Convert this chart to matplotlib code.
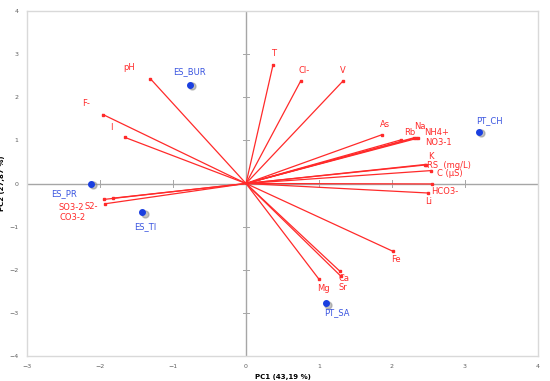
import matplotlib.pyplot as plt

# variable loadings (PC1, PC2)
var_names = ["pH", "F-", "I", "T", "Cl-", "V", "As", "Rb", "Na", "NH4+", "NO3-1",
             "K", "RS  (mg/L)", "C (µS)", "HCO3-", "Li", "Fe", "Ca", "Sr", "Mg",
             "SO3-2", "S2-", "CO3-2"]
var_pc1 = [-1.31, -1.96, -1.66, 0.37, 0.75, 1.33, 1.86, 2.12, 2.30, 2.33, 2.35,
           2.45, 2.46, 2.54, 2.55, 2.49, 2.01, 1.29, 1.30, 1.00,
           -1.95, -1.82, -1.93]
var_pc2 = [2.43, 1.60, 1.07, 2.75, 2.38, 2.38, 1.13, 1.01, 1.06, 1.06, 1.05,
           0.44, 0.43, 0.30, -0.01, -0.22, -1.57, -2.04, -2.15, -2.22,
           -0.37, -0.34, -0.47]

# observations
obs_names = ["ES_BUR", "PT_CH", "ES_PR", "ES_TI", "PT_SA"]
obs_pc1 = [-0.77, 3.19, -2.12, -1.42, 1.10]
obs_pc2 = [2.29, 1.20, 0.00, -0.67, -2.78]

# label offsets in pixels (dx, dy) and horizontal alignment
var_offsets = {
    "pH": (-21, 11, "center"), "F-": (-17, 11, "center"), "I": (-13, 10, "center"),
    "T": (1, 11, "center"), "Cl-": (3, 10, "center"), "V": (0, 10, "center"),
    "As": (3, 10, "center"), "Rb": (9, 7, "center"), "Na": (6, 11, "center"),
    "NH4+": (8, 5, "left"), "NO3-1": (8, -4, "left"), "K": (6, 8, "center"),
    "RS  (mg/L)": (1, -1, "left"), "C (µS)": (6, -3, "left"),
    "HCO3-": (-1, -8, "left"), "Li": (1, -9, "center"), "Fe": (3, -8, "center"),
    "Ca": (4, -7, "center"), "Sr": (2, -11, "center"), "Mg": (4, -9, "center"),
    "SO3-2": (-32, -8, "center"), "S2-": (-22, -8, "center"), "CO3-2": (-33, -14, "center"),
}
obs_offsets = {
    "ES_BUR": (0, 13), "PT_CH": (11, 11), "ES_PR": (-27, -10),
    "ES_TI": (3, -14), "PT_SA": (11, -9),
}

red = "#ff2a2a"
blue = "#3a55e0"

fig = plt.figure(figsize=(5.5, 3.81), dpi=100)
ax = fig.add_axes([27 / 550, 1 - 356 / 381, (538 - 27) / 550, (356 - 11) / 381])

ax.set_xlim(-3, 4)
ax.set_ylim(-4, 4)
for s in ax.spines.values():
    s.set_color("#d9d9d9")
    s.set_linewidth(1)

ax.axhline(0, color="#a6a6a6", lw=1, zorder=1)
ax.axvline(0, color="#a6a6a6", lw=1, zorder=1)
for v in range(-4, 5):
    ax.plot([-0.04, 0.04], [v, v], color="#a6a6a6", lw=0.7, zorder=1)
for v in range(-3, 5):
    ax.plot([v, v], [-0.07, 0.07], color="#a6a6a6", lw=0.7, zorder=1)

ax.set_xticks(range(-3, 5))
ax.set_yticks(range(-4, 5))
ax.tick_params(length=0, labelsize=4.5, labelcolor="#606060", pad=6)

for name, x, y in zip(var_names, var_pc1, var_pc2):
    ax.plot([0, x], [0, y], color=red, lw=0.9, zorder=2)
    ax.plot(x, y, "s", color=red, ms=2, zorder=3)
    dx, dy, ha = var_offsets[name]
    ax.annotate(name, (x, y), xytext=(dx, dy), textcoords="offset pixels",
                ha=ha, va="center", fontsize=6, color=red)

for name, x, y in zip(obs_names, obs_pc1, obs_pc2):
    ax.plot(x + 0.03, y - 0.04, "o", color="#888888", ms=5, alpha=0.5, zorder=3)
    ax.plot(x, y, "o", color="#1a3fe0", ms=4, zorder=4)
    dx, dy = obs_offsets[name]
    ax.annotate(name, (x, y), xytext=(dx, dy), textcoords="offset pixels",
                ha="center", va="center", fontsize=6, color=blue)

ax.set_xlabel("PC1 (43,19 %)", fontsize=5, fontweight="bold", labelpad=3)
ax.set_ylabel("PC2 (27,87 %)", fontsize=5, fontweight="bold", labelpad=3)

fig.savefig("out.png", dpi=100)
